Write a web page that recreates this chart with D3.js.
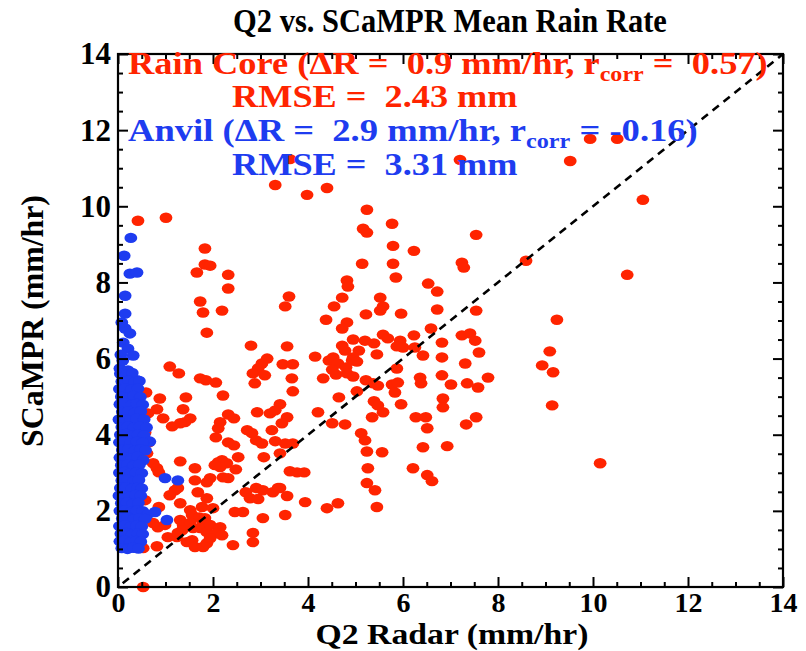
<!DOCTYPE html>
<html><head><meta charset="utf-8">
<script src="https://cdn.jsdelivr.net/npm/d3@7"></script>
<style>body{margin:0;background:#fff}svg text{white-space:pre}</style>
</head><body>
<svg id="c" width="806" height="651"></svg>
<script>
// ---------------- data ----------------
const chartTitle = "Q2 vs. SCaMPR Mean Rain Rate";
const xLabel = "Q2 Radar (mm/hr)";
const yLabel = "SCaMPR (mm/hr)";
const xTickValues = [0, 2, 4, 6, 8, 10, 12, 14];
const yTickValues = [0, 2, 4, 6, 8, 10, 12, 14];
const oneToOne = [0, 14];
const rainCoreStats = ["Rain Core (\u0394R =  0.9 mm/hr, r", "corr", " =  0.57)"];
const rainCoreRmse = "RMSE =  2.43 mm";
const anvilStats = ["Anvil (\u0394R =  2.9 mm/hr, r", "corr", " = -0.16)"];
const anvilRmse = "RMSE =  3.31 mm";

// Rain core points [Q2, SCaMPR]
const rainCore = [
[3.62,11.24],[3.31,10.56],[3.98,10.30],[4.40,10.48],[0.42,9.62],[1.01,9.70],[5.24,9.91],[5.77,9.54],[5.16,9.41],[5.24,9.31],
[9.94,11.77],[10.51,11.77],[7.20,11.22],[9.52,11.19],[11.05,10.17],[7.54,9.25],[1.83,8.89],[5.79,8.96],[6.23,8.83],
[8.59,8.57],[7.24,8.52],[7.28,8.39],[5.14,8.49],[5.79,8.49],[1.83,8.47],[1.94,8.44],[1.66,8.26],[2.32,8.20],[10.72,8.20],[5.85,8.13],
[4.82,8.05],[4.84,7.89],[6.53,7.97],[2.32,7.84],[6.72,7.76],[4.72,7.60],[3.60,7.63],[5.52,7.60],[1.73,7.50],[3.52,7.37],
[4.55,7.37],[5.58,7.37],[5.52,7.26],[1.79,7.21],[2.19,7.26],[6.72,7.29],[7.54,7.26],[5.22,7.16],[5.96,7.18],[9.24,7.02],
[4.38,7.02],[4.82,6.95],[4.72,6.79],[6.59,6.79],[1.87,6.68],[7.24,6.61],[7.41,6.66],[7.52,6.47],[6.82,6.42],[6.23,6.61],
[5.58,6.63],[5.68,6.53],[4.95,6.50],[5.20,6.47],[5.39,6.40],[5.94,6.47],[5.87,6.32],[6.00,6.29],[6.25,6.29],[2.80,6.34],
[3.56,6.32],[4.72,6.34],[4.78,6.21],[5.07,6.21],[7.60,6.16],[9.09,6.19],[6.42,6.08],[5.45,6.11],[4.15,6.05],[6.82,6.03],
[4.95,6.03],[3.14,6.00],[4.44,5.95],[4.53,6.03],[4.63,5.87],[4.93,5.95],[5.03,5.92],[3.03,5.87],[3.47,5.85],[3.68,5.85],
[2.95,5.74],[2.84,5.61],[3.09,5.56],[1.09,5.79],[1.28,5.61],[4.80,5.77],[7.31,5.87],[8.93,5.82],[5.87,5.74],[4.59,5.58],
[4.51,5.71],[4.82,5.61],[9.16,5.64],[4.95,5.53],[7.79,5.50],[6.82,5.56],[6.36,5.50],[6.38,5.35],[3.66,5.48],[4.32,5.48],
[5.22,5.43],[5.37,5.35],[5.47,5.29],[5.77,5.32],[5.89,5.37],[7.01,5.32],[7.35,5.35],[7.58,5.24],[1.73,5.48],[1.85,5.43],
[2.06,5.37],[2.88,5.35],[5.83,5.11],[5.03,5.14],[3.68,5.14],[0.59,5.11],[0.88,4.95],[1.43,4.98],[2.21,5.03],[4.65,4.98],
[6.84,4.95],[5.39,4.88],[5.47,4.77],[5.58,4.59],[5.96,4.80],[6.84,4.72],[9.14,4.77],[3.41,4.80],[3.56,4.46],[4.21,4.59],
[5.35,4.46],[6.27,4.46],[6.48,4.46],[7.54,4.46],[7.33,4.27],[6.51,4.17],[4.51,4.30],[4.78,4.27],[0.82,4.67],[0.63,4.56],
[0.95,4.43],[1.37,4.67],[1.52,4.43],[1.41,4.33],[1.31,4.30],[1.14,4.22],[2.32,4.53],[2.44,4.43],[2.93,4.59],[3.20,4.56],
[3.31,4.64],[2.15,4.33],[2.11,4.17],[2.06,3.93],[2.72,4.12],[2.82,4.04],[3.24,4.12],[3.45,4.30],[0.57,4.06],[0.65,3.80],
[0.61,3.51],[2.32,3.80],[2.44,3.72],[2.91,3.85],[3.03,3.77],[3.31,3.83],[3.52,3.77],[3.68,3.77],[5.12,4.04],[5.20,3.85],
[6.93,3.70],[6.42,3.67],[5.24,3.56],[5.56,3.54],[2.53,3.41],[3.07,3.41],[3.41,3.51],[1.31,3.30],[0.74,3.25],[0.82,3.12],
[0.86,3.01],[1.62,3.12],[2.11,3.28],[2.19,3.33],[2.29,3.25],[2.15,3.15],[2.04,3.20],[2.48,3.09],[3.62,3.04],[3.77,3.01],
[3.92,3.01],[5.26,3.12],[6.21,3.12],[6.51,2.94],[6.61,2.78],[10.15,3.25],[5.24,2.73],[5.41,2.54],[3.41,2.60],[1.94,2.86],
[1.87,2.75],[2.21,2.88],[2.32,2.86],[1.62,2.80],[1.20,2.54],[1.09,2.41],[1.26,2.60],[1.68,2.49],[1.87,2.33],[1.31,2.20],
[0.86,2.10],[0.57,2.28],[1.52,2.02],[1.56,1.89],[1.77,2.10],[1.71,1.83],[1.83,1.81],[2.00,2.07],[2.69,2.49],[2.91,2.60],
[3.05,2.54],[3.26,2.49],[3.37,2.60],[2.78,2.33],[2.95,2.31],[3.56,2.39],[2.46,1.97],[2.63,1.97],[3.05,1.81],[3.52,1.89],
[3.94,2.23],[4.63,2.20],[4.40,2.07],[5.45,2.10],[0.74,1.68],[0.84,1.57],[0.99,1.63],[1.31,1.76],[1.37,1.63],[1.52,1.68],
[1.58,1.55],[1.79,1.70],[1.73,1.55],[1.87,1.44],[1.94,1.63],[2.15,1.57],[2.08,1.42],[1.05,1.31],[1.24,1.31],[1.45,1.18],
[1.56,1.23],[1.62,1.05],[1.79,1.05],[1.87,1.15],[1.94,1.28],[2.19,1.36],[0.82,1.07],[1.35,1.49],[1.26,1.42],[2.42,1.10],
[2.84,1.42],[2.84,1.18],[0.53,1.02],[0.53,0.00]
];

// Anvil points [Q2, SCaMPR]
const anvil = [
[0.27,9.17],[0.13,8.70],[0.25,8.23],[0.40,8.26],[0.15,7.65],[0.15,7.18],[0.15,6.79],[0.25,6.66],[0.11,6.42],[0.21,6.26],
[0.32,6.08],[0.06,6.10],[0.04,5.74],[0.21,5.69],[0.40,5.43],[0.08,6.95],[0.10,5.95],
[0.05,5.60],[0.18,5.58],[0.30,5.62],
[0.08,5.40],[0.22,5.42],[0.35,5.38],[0.45,5.41],
[0.03,5.20],[0.15,5.22],[0.28,5.18],[0.42,5.21],
[0.07,5.00],[0.20,4.98],[0.33,5.02],[0.47,4.99],
[0.04,4.80],[0.16,4.82],[0.29,4.78],[0.40,4.81],[0.52,4.79],
[0.09,4.60],[0.22,4.62],[0.35,4.58],[0.48,4.61],
[0.02,4.40],[0.14,4.41],[0.27,4.38],[0.39,4.42],[0.55,4.40],
[0.08,4.20],[0.21,4.22],[0.33,4.18],[0.46,4.21],[0.60,4.19],
[0.05,4.00],[0.17,4.02],[0.30,3.98],[0.42,4.01],[0.55,3.99],[0.67,3.82],
[0.03,3.80],[0.15,3.81],[0.27,3.78],[0.40,3.82],[0.52,3.79],
[0.09,3.60],[0.22,3.62],[0.35,3.58],[0.47,3.61],[0.58,3.59],
[0.04,3.40],[0.16,3.41],[0.29,3.38],[0.41,3.42],[0.53,3.33],
[0.07,3.20],[0.20,3.22],[0.32,3.18],[0.45,3.21],
[0.03,3.00],[0.14,3.02],[0.26,2.98],[0.38,3.01],[0.50,2.99],
[0.08,2.80],[0.21,2.82],[0.33,2.78],[0.44,2.81],
[0.05,2.60],[0.17,2.62],[0.29,2.58],[0.41,2.61],[0.50,2.59],
[0.02,2.40],[0.13,2.41],[0.25,2.38],[0.37,2.42],[0.48,2.40],
[0.07,2.20],[0.19,2.22],[0.31,2.18],[0.43,2.21],
[0.04,2.00],[0.16,2.02],[0.28,1.98],[0.40,2.01],[0.52,1.99],[0.62,1.90],
[0.09,1.80],[0.21,1.82],[0.33,1.78],[0.45,1.81],[0.57,1.79],
[0.03,1.60],[0.15,1.62],[0.27,1.58],[0.39,1.61],[0.50,1.59],
[0.06,1.40],[0.18,1.42],[0.30,1.38],[0.42,1.41],[0.52,1.39],
[0.04,1.20],[0.14,1.22],[0.26,1.18],[0.38,1.21],[0.48,1.19],
[0.08,1.02],[0.20,1.00],[0.32,1.03],[0.43,1.01],
[0.99,2.86],[1.26,2.80],[0.78,1.97],[1.03,1.76]
];

// ---------------- drawing ----------------
const svg = d3.select("#c");
const m = {l: 118, r: 783, t: 54, b: 587};
const x = d3.scaleLinear().domain([0, 14]).range([m.l, m.r]);
const y = d3.scaleLinear().domain([0, 14]).range([m.b, m.t]);
const RED = "#ff2400", BLUE = "#1e3cf0";
const FONT = "'Liberation Serif','Times New Roman',Times,serif";

svg.append("rect").attr("width", 806).attr("height", 651).attr("fill", "#fff");

// points
svg.append("g").selectAll("ellipse").data(rainCore).join("ellipse")
  .attr("cx", d => x(d[0])).attr("cy", d => y(d[1]))
  .attr("rx", 6.4).attr("ry", 5.2).attr("fill", RED);
svg.append("g").selectAll("ellipse").data(anvil).join("ellipse")
  .attr("cx", d => x(d[0])).attr("cy", d => y(d[1]))
  .attr("rx", 6.4).attr("ry", 5.2).attr("fill", BLUE);

// 1:1 dashed line
svg.append("line")
  .attr("x1", x(oneToOne[0])).attr("y1", y(oneToOne[0]))
  .attr("x2", x(oneToOne[1])).attr("y2", y(oneToOne[1]))
  .attr("stroke", "#000").attr("stroke-width", 2.6).attr("stroke-dasharray", "8,6")
  .attr("stroke-dashoffset", -6);

// axes
const minor = d3.range(0, 14.001, 0.5).filter(v => v % 2 !== 0);
function styleAxis(size) {
  return g => {
    g.select(".domain").remove();
    g.selectAll("line").attr("stroke", "#000").attr("stroke-width", 2);
    g.selectAll("text").attr("font-family", FONT).attr("font-weight", "bold")
      .attr("font-size", size).attr("fill", "#000");
  };
}
svg.append("g").attr("transform", `translate(0,${m.b})`)
  .call(d3.axisBottom(x).tickValues(xTickValues).tickSizeInner(-10).tickSizeOuter(0).tickPadding(5).tickFormat(d3.format("d")))
  .call(styleAxis(28));
svg.append("g").attr("transform", `translate(0,${m.b})`)
  .call(d3.axisBottom(x).tickValues(minor).tickSizeInner(-5).tickSizeOuter(0).tickFormat(""))
  .call(styleAxis(28));
svg.append("g").attr("transform", `translate(0,${m.t})`)
  .call(d3.axisTop(x).tickValues(xTickValues).tickSizeInner(-10).tickSizeOuter(0).tickFormat(""))
  .call(styleAxis(28));
svg.append("g").attr("transform", `translate(0,${m.t})`)
  .call(d3.axisTop(x).tickValues(minor).tickSizeInner(-5).tickSizeOuter(0).tickFormat(""))
  .call(styleAxis(28));
svg.append("g").attr("transform", `translate(${m.l},0)`)
  .call(d3.axisLeft(y).tickValues(yTickValues).tickSizeInner(-10).tickSizeOuter(0).tickPadding(7).tickFormat(d3.format("d")))
  .call(styleAxis(31));
svg.append("g").attr("transform", `translate(${m.l},0)`)
  .call(d3.axisLeft(y).tickValues(minor).tickSizeInner(-5).tickSizeOuter(0).tickFormat(""))
  .call(styleAxis(31));
svg.append("g").attr("transform", `translate(${m.r},0)`)
  .call(d3.axisRight(y).tickValues(yTickValues).tickSizeInner(-10).tickSizeOuter(0).tickFormat(""))
  .call(styleAxis(31));
svg.append("g").attr("transform", `translate(${m.r},0)`)
  .call(d3.axisRight(y).tickValues(minor).tickSizeInner(-5).tickSizeOuter(0).tickFormat(""))
  .call(styleAxis(31));

svg.append("rect").attr("x", m.l).attr("y", m.t).attr("width", m.r - m.l).attr("height", m.b - m.t)
  .attr("fill", "none").attr("stroke", "#000").attr("stroke-width", 2.2);

// text helper: place and stretch horizontally to a target width
function fitText(parts, opts) {
  const g = svg.append("g");
  const t = g.append("text").attr("font-family", FONT).attr("font-weight", "bold")
    .attr("font-size", opts.size).attr("fill", opts.color || "#000");
  if (typeof parts === "string") t.text(parts);
  else {
    t.append("tspan").text(parts[0]);
    t.append("tspan").attr("font-size", opts.size * 0.66).attr("dy", opts.size * 0.22).text(parts[1]);
    t.append("tspan").attr("dy", -opts.size * 0.22).text(parts[2]);
  }
  const w = t.node().getBBox().width;
  const s = opts.width / w;
  if (opts.anchor === "middle") t.attr("text-anchor", "middle");
  g.attr("transform", `translate(${opts.x},${opts.y})${opts.rotate ? " rotate(" + opts.rotate + ")" : ""} scale(${s},1)`);
  return g;
}

fitText(chartTitle, {x: 450, y: 32, size: 33, width: 434, anchor: "middle"});
fitText(xLabel, {x: 452, y: 644, size: 29, width: 273, anchor: "middle"});
fitText(yLabel, {x: 43, y: 321, size: 32, width: 252, anchor: "middle", rotate: -90});

fitText(rainCoreStats, {x: 128, y: 74, size: 32, width: 640, color: RED});
fitText(rainCoreRmse, {x: 232, y: 107, size: 32, width: 286, color: RED});
fitText(anvilStats, {x: 128, y: 141, size: 32, width: 570, color: BLUE});
fitText(anvilRmse, {x: 232, y: 175, size: 32, width: 286, color: BLUE});
</script>
</body></html>
